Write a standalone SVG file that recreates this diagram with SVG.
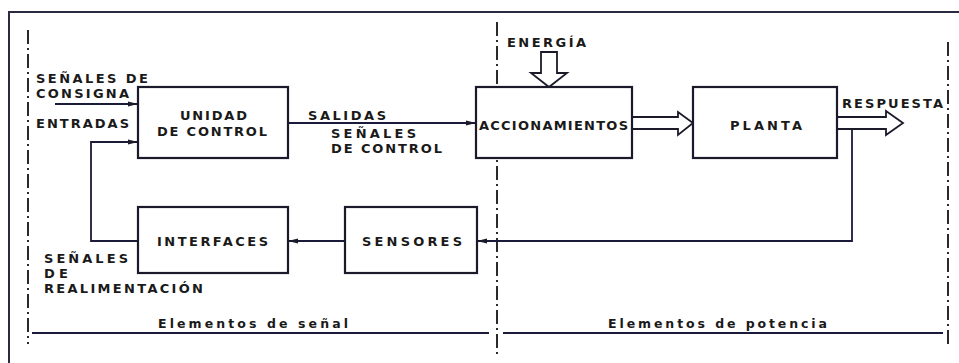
<svg xmlns="http://www.w3.org/2000/svg" width="959" height="363" viewBox="0 0 959 363">
<defs>
<style>
.box{fill:#fff;stroke:#1a1a2a;stroke-width:2.2}
.ln{fill:none;stroke:#1a1a3a;stroke-width:1.8}
.dd{fill:none;stroke:#2a2a2a;stroke-width:2;stroke-dasharray:14 4 2 4}
.hol{fill:#fff;stroke:#1a1a2a;stroke-width:1.8;stroke-linejoin:miter}
.t{font-family:"DejaVu Sans",sans-serif;font-weight:bold;font-size:13px;fill:#1a1a1a}
.s{font-family:"DejaVu Sans",sans-serif;font-weight:bold;font-size:12.5px;fill:#1a1a1a}
</style>
<marker id="ah" viewBox="0 0 10 6" refX="10" refY="3" markerWidth="10" markerHeight="6" markerUnits="userSpaceOnUse" orient="auto">
<path d="M0,0.5 L10,3 L0,5.5 Z" fill="#1a1a2a"/>
</marker>
</defs>
<rect width="959" height="363" fill="#fff"/>
<g id="frame">
<rect x="9" y="12" width="960" height="360" fill="none" stroke="#2a2a40" stroke-width="2"/>
<line class="dd" x1="28" y1="30" x2="28" y2="344"/>
<line class="dd" x1="497" y1="22" x2="497" y2="358"/>
<line class="dd" x1="948" y1="42" x2="948" y2="345"/>
<line class="ln" x1="32" y1="333" x2="489" y2="333"/>
<line class="ln" x1="503" y1="333" x2="943" y2="333"/>
<text class="s" x="158" y="328" textLength="190" lengthAdjust="spacing">Elementos de señal</text>
<text class="s" x="608" y="328" textLength="219" lengthAdjust="spacing">Elementos de potencia</text>
</g>
<g id="connectors">
<line class="ln" x1="55" y1="104" x2="138" y2="104" marker-end="url(#ah)"/>
<polyline class="ln" points="138,241 91,241 91,142 138,142" marker-end="url(#ah)"/>
<line class="ln" x1="288" y1="123" x2="476" y2="123" marker-end="url(#ah)"/>
<line class="ln" x1="345" y1="241" x2="288" y2="241" marker-end="url(#ah)"/>
<polyline class="ln" points="852,128 852,241 477,241" marker-end="url(#ah)"/>
<polygon class="hol" points="541,52 557,52 557,73 567,73 549,87 531,73 541,73"/>
<polygon class="hol" points="632,117 678,117 678,112 693,123 678,135 678,129 632,129"/>
<polygon class="hol" points="837,117 886,117 886,111 903,123 886,135 886,129 837,129"/>
</g>
<g id="labels">
<text class="t" x="36" y="83" textLength="112" lengthAdjust="spacing">SEÑALES DE</text>
<text class="t" x="36" y="98" textLength="93" lengthAdjust="spacing">CONSIGNA</text>
<text class="t" x="36" y="128" textLength="93" lengthAdjust="spacing">ENTRADAS</text>
<text class="t" x="308" y="120" textLength="78" lengthAdjust="spacing">SALIDAS</text>
<text class="t" x="331" y="138" textLength="85" lengthAdjust="spacing">SEÑALES</text>
<text class="t" x="331" y="153" textLength="111" lengthAdjust="spacing">DE CONTROL</text>
<text class="t" x="507" y="47" textLength="79" lengthAdjust="spacing">ENERGÍA</text>
<text class="t" x="842" y="108" textLength="101" lengthAdjust="spacing">RESPUESTA</text>
<text class="t" x="44" y="263" textLength="84" lengthAdjust="spacing">SEÑALES</text>
<text class="t" x="44" y="278" textLength="24" lengthAdjust="spacing">DE</text>
<text class="t" x="44" y="293" textLength="159" lengthAdjust="spacing">REALIMENTACIÓN</text>
</g>
<g id="unidad">
<rect class="box" x="138" y="87" width="150" height="71"/>
<text class="t" x="180" y="120" textLength="67" lengthAdjust="spacing">UNIDAD</text>
<text class="t" x="157" y="136" textLength="110" lengthAdjust="spacing">DE CONTROL</text>
</g>
<g id="accionamientos">
<rect class="box" x="476" y="87" width="156" height="71"/>
<text class="t" x="479" y="130" textLength="149" lengthAdjust="spacing">ACCIONAMIENTOS</text>
</g>
<g id="planta">
<rect class="box" x="693" y="87" width="144" height="71"/>
<text class="t" x="730" y="130" textLength="72" lengthAdjust="spacing">PLANTA</text>
</g>
<g id="interfaces">
<rect class="box" x="138" y="207" width="150" height="66"/>
<text class="t" x="157" y="246" textLength="111" lengthAdjust="spacing">INTERFACES</text>
</g>
<g id="sensores">
<rect class="box" x="345" y="207" width="132" height="66"/>
<text class="t" x="362" y="246" textLength="100" lengthAdjust="spacing">SENSORES</text>
</g>
</svg>
